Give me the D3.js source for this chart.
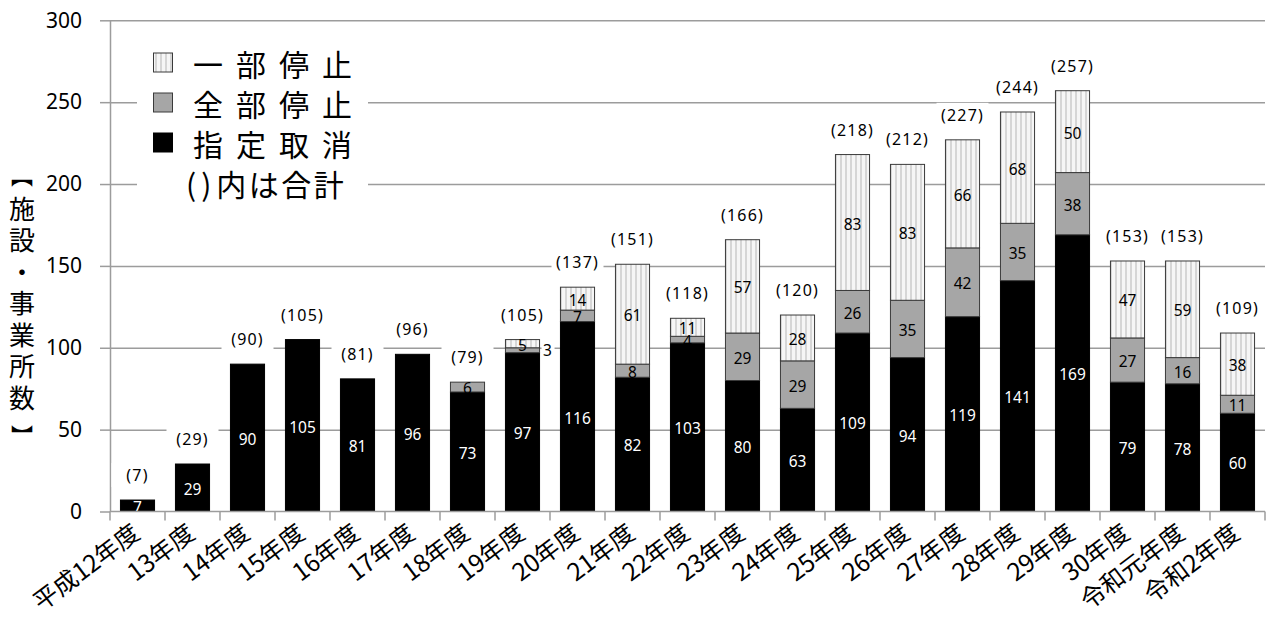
<!DOCTYPE html>
<html>
<head>
<meta charset="utf-8">
<script src="https://cdn.jsdelivr.net/npm/d3@7"></script>
<style>
  body { margin: 0; background: #fff; }
  svg { display: block; }
</style>
</head>
<body>
<svg id="chart" width="1269" height="619"></svg>
<script>
// Fiscal years (Heisei 12 .. Reiwa 2)
const years = ["平成12年度","13年度","14年度","15年度","16年度","17年度","18年度","19年度","20年度",
  "21年度","22年度","23年度","24年度","25年度","26年度","27年度","28年度","29年度","30年度","令和元年度","令和2年度"];
// Designation revoked
const revoked = [7,29,90,105,81,96,73,97,116,82,103,80,63,109,94,119,141,169,79,78,60];
// Full suspension
const fullSuspension = [0,0,0,0,0,0,6,3,7,8,4,29,29,26,35,42,35,38,27,16,11];
// Partial suspension
const partialSuspension = [0,0,0,0,0,0,0,5,14,61,11,57,28,83,83,66,68,50,47,59,38];
const yTicks = [0,50,100,150,200,250,300];
const seriesKeys = ["revoked","full","partial"];
const legendLabels = {partial: "一部停止", full: "全部停止", revoked: "指定取消"};
const legendNote = ["()", "内は合計"];
const axisTitle = ["施","設","・","事","業","所","数"];

const svg = d3.select("#chart");
const plotLeft = 110, plotRight = 1265, plotTop = 20.3, plotBottom = 511.5;

const rows = years.map((yr, i) => ({
  year: yr, revoked: revoked[i], full: fullSuspension[i], partial: partialSuspension[i],
  total: revoked[i] + fullSuspension[i] + partialSuspension[i]
}));

const x = d3.scaleBand().domain(years).range([plotLeft, plotRight]).paddingInner(0.38).paddingOuter(0.19);
const y = d3.scaleLinear().domain([0, 300]).range([plotBottom, plotTop]);

const defs = svg.append("defs");
const pat = defs.append("pattern").attr("id", "vstripe")
  .attr("patternUnits", "userSpaceOnUse").attr("width", 5).attr("height", 5);
pat.append("rect").attr("width", 5).attr("height", 5).attr("fill", "#f6f6f6");
pat.append("rect").attr("x", 0).attr("width", 2).attr("height", 5).attr("fill", "#d6d6d6");

const fills = {revoked: "#000000", full: "#a6a6a6", partial: "url(#vstripe)"};
const strokes = {revoked: "#000000", full: "#3a3a3a", partial: "#3a3a3a"};
const labelColor = {revoked: "#ffffff", full: "#000000", partial: "#000000"};

const numFont = "'Noto Sans', 'Open Sans', sans-serif";
const cjkFont = "'Noto Sans CJK JP', 'Noto Sans', sans-serif";
const gridColor = "#9c9c9c";

// Horizontal gridlines
const grid = svg.append("g")
  .attr("transform", `translate(${plotLeft},0)`)
  .call(d3.axisLeft(y).tickValues(yTicks.filter(v => v > 0)).tickSize(-(plotRight - plotLeft)).tickFormat(""));
grid.select(".domain").remove();
grid.selectAll("line").attr("stroke", gridColor).attr("stroke-width", 1.5);

// Left axis with outer tick marks and labels
const yAxis = svg.append("g")
  .attr("transform", `translate(${plotLeft},0)`)
  .call(d3.axisLeft(y).tickValues(yTicks).tickSize(10).tickPadding(18).tickSizeOuter(0));
yAxis.select(".domain").attr("stroke", gridColor).attr("stroke-width", 1.5);
yAxis.selectAll("line").attr("stroke", gridColor).attr("stroke-width", 1.5);
yAxis.selectAll("text").attr("font-family", numFont).attr("font-size", 21).attr("fill", "#000");

// White boxes behind the total labels
svg.append("g").selectAll("rect").data(rows).join("rect")
  .attr("x", d => x(d.year) + x.bandwidth() / 2 - 26)
  .attr("y", d => y(d.total) - 37)
  .attr("width", 52).attr("height", 24)
  .attr("fill", "#fff");

// Legend box
const legend = svg.append("g");
legend.append("rect").attr("x", 137).attr("y", 38).attr("width", 231).attr("height", 162).attr("fill", "#fff");
const legendOrder = ["partial", "full", "revoked"];
legendOrder.forEach((k, i) => {
  const cy = 63 + i * 40;
  legend.append("rect").attr("x", 153.5).attr("y", cy - 10).attr("width", 19).attr("height", 19)
    .attr("fill", fills[k]).attr("stroke", k === "revoked" ? "#000" : "#3a3a3a").attr("stroke-width", 1);
  legend.append("text").attr("x", 193).attr("y", cy).attr("dominant-baseline", "central")
    .attr("font-family", cjkFont).attr("font-size", 30).attr("letter-spacing", 13)
    .attr("fill", "#000").text(legendLabels[k]);
});
const note = legend.append("text").attr("x", 186).attr("y", 183).attr("dominant-baseline", "central")
  .attr("font-family", cjkFont).attr("font-size", 30).attr("fill", "#000");
note.append("tspan").attr("letter-spacing", 5).text(legendNote[0]);
note.append("tspan").attr("letter-spacing", 2.5).text(legendNote[1]);

// Stacked bars
const stack = d3.stack().keys(seriesKeys)(rows);
const layers = svg.append("g").selectAll("g").data(stack).join("g");
layers.selectAll("rect").data(s => s.filter(d => d[1] - d[0] > 0).map(d => ({key: s.key, d}))).join("rect")
  .attr("x", e => x(e.d.data.year))
  .attr("y", e => y(e.d[1]))
  .attr("width", x.bandwidth())
  .attr("height", e => y(e.d[0]) - y(e.d[1]))
  .attr("fill", e => fills[e.key])
  .attr("stroke", e => strokes[e.key])
  .attr("stroke-width", 1);

// Segment value labels
const segLabels = svg.append("g");
stack.forEach(s => {
  s.forEach(d => {
    const v = d[1] - d[0];
    if (v <= 0) return;
    const cx = x(d.data.year) + x.bandwidth() / 2;
    const cy = y((d[0] + d[1]) / 2);
    if (v <= 3) {
      // too thin: label beside the bar
      const tx = x(d.data.year) + x.bandwidth() + 8;
      segLabels.append("rect").attr("x", tx - 6).attr("y", cy - 9).attr("width", 13).attr("height", 18).attr("fill", "#fff");
      segLabels.append("text").attr("x", tx).attr("y", cy).attr("text-anchor", "middle")
        .attr("dominant-baseline", "central").attr("font-family", numFont).attr("font-size", 15.5)
        .attr("fill", "#000").text(v);
      return;
    }
    segLabels.append("text").attr("x", cx).attr("y", cy + 1).attr("text-anchor", "middle")
      .attr("dominant-baseline", "central").attr("font-family", numFont).attr("font-size", 15.5)
      .attr("fill", labelColor[s.key]).text(v);
  });
});

// Total labels
svg.append("g").selectAll("text").data(rows).join("text")
  .attr("x", d => x(d.year) + x.bandwidth() / 2)
  .attr("y", d => y(d.total) - 25)
  .attr("text-anchor", "middle").attr("dominant-baseline", "central")
  .attr("font-family", numFont).attr("font-size", 16).attr("letter-spacing", 1.2)
  .attr("fill", "#000").text(d => `(${d.total})`);

// Bottom axis: baseline, category boundary ticks, rotated labels
const gap = (x.step() - x.bandwidth()) / 2;
const bounds = years.map(d => x(d) - gap).concat([x(years[years.length - 1]) + x.bandwidth() + gap]);
svg.append("line").attr("x1", plotLeft).attr("x2", plotRight).attr("y1", plotBottom).attr("y2", plotBottom)
  .attr("stroke", gridColor).attr("stroke-width", 1.5);
svg.append("g").selectAll("line").data(bounds).join("line")
  .attr("x1", d => d).attr("x2", d => d).attr("y1", plotBottom).attr("y2", plotBottom + 9)
  .attr("stroke", gridColor).attr("stroke-width", 1.5);
svg.append("g").selectAll("text").data(years).join("text")
  .attr("transform", d => `translate(${x(d) + x.bandwidth() / 2 + 4},${plotBottom + 25}) rotate(-37)`)
  .attr("text-anchor", "end")
  .attr("font-family", cjkFont).attr("font-size", 24.5).attr("fill", "#000")
  .text(d => d);

// Vertical axis title
const titleG = svg.append("g").attr("font-family", cjkFont).attr("font-size", 26).attr("fill", "#000");
titleG.append("text").attr("x", 22).attr("y", 174).attr("text-anchor", "middle").attr("dominant-baseline", "central")
  .attr("font-size", 22).text("︻");
axisTitle.forEach((c, i) => {
  titleG.append("text").attr("x", 22).attr("y", 207 + i * 31.5).attr("text-anchor", "middle")
    .attr("dominant-baseline", "central").text(c);
});
titleG.append("text").attr("x", 22).attr("y", 434).attr("text-anchor", "middle").attr("dominant-baseline", "central")
  .attr("font-size", 22).text("︼");
</script>
</body>
</html>
